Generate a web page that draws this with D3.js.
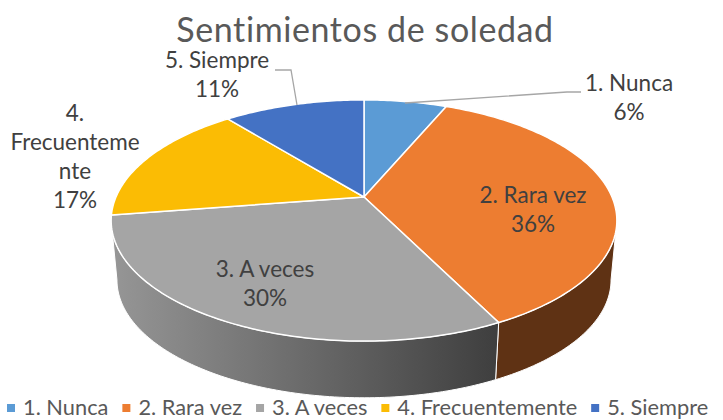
<!DOCTYPE html>
<html><head><meta charset="utf-8">
<script src="https://cdn.jsdelivr.net/npm/d3@7"></script>
<style>html,body{margin:0;background:#fff;overflow:hidden}svg{display:block}text{font-family:Lato,"Open Sans",sans-serif}</style>
</head><body><svg id="c" width="723" height="420"></svg>
<script>
const title = "Sentimientos de soledad";
const categories = ["1. Nunca","2. Rara vez","3. A veces","4. Frecuentemente","5. Siempre"];
const values = [6.4,36.2,30,16.5,10.9];
const colors = ["#5b9bd5","#ed7d31","#a5a5a5","#fbbc04","#4472c4"];
const sideColors = ["#2e5f8c","#5f3214","url(#gs)","#7f6000","#264478"];
const labelLines = [["1. Nunca"],["2. Rara vez"],["3. A veces"],["4.","Frecuenteme","nte"],["5. Siempre"]];

const svg = d3.select("#c");
const cx = 364, cy = 197, k = 0.195, A = 248, B = 116, depth = 60, shrink = 0.977;
function proj(theta, r, s, dy){
  const u = r*Math.sin(theta), v = r*Math.cos(theta), w = 1 + k*v;
  return [cx + s*A*u/w, cy + dy - s*B*v/w];
}
const arcs = d3.pie().sort(null).value(d=>d)(values);
const line = d3.line();
const defs = svg.append("defs");
const g = defs.append("linearGradient").attr("id","gs").attr("gradientUnits","userSpaceOnUse")
  .attr("x1",112).attr("x2",495).attr("y1",0).attr("y2",0);
g.append("stop").attr("offset",0).attr("stop-color","#969696");
g.append("stop").attr("offset",1).attr("stop-color","#3f3f3f");
function samples(s,e){ const n = Math.max(8,Math.ceil((e-s)*60));
  return d3.range(n+1).map(i=>s+(e-s)*i/n); }

// sides: only the part of the rim that faces the viewer
const visA = Math.acos(-k), visB = 2*Math.PI - visA;
arcs.forEach((a,i)=>{
  const s = Math.max(a.startAngle,visA), e = Math.min(a.endAngle,visB);
  if (e <= s) return;
  const t = samples(s,e);
  const pts = t.map(x=>proj(x,1,1,0)).concat(t.slice().reverse().map(x=>proj(x,1,shrink,depth)));
  svg.append("path").attr("d",line(pts)+"Z").attr("fill",sideColors[i])
    .attr("stroke","#fff").attr("stroke-width",1);
});
// top face
arcs.forEach((a,i)=>{
  const pts = [proj(0,0,1,0)].concat(samples(a.startAngle,a.endAngle).map(x=>proj(x,1,1,0)));
  svg.append("path").attr("d",line(pts)+"Z").attr("fill",colors[i])
    .attr("stroke","#fff").attr("stroke-width",1.5).attr("stroke-linejoin","round");
});
// title
svg.append("text").attr("x",365).attr("y",42).attr("text-anchor","middle")
  .attr("font-size",34).attr("fill","#595959").attr("letter-spacing",0.6).text(title);
// leader lines
const leaderColor="#a6a6a6";
const leaders=[[[405,103],[567,92],[581,92]],[[275,70],[291,70],[297,105]]];
leaders.forEach(l=>svg.append("path").attr("d",line(l)).attr("fill","none").attr("stroke",leaderColor).attr("stroke-width",1.3));
// data labels
const labelPos=[[629,91],[533,203],[265,277],[75,121],[217,68]];
const lh=29;
arcs.forEach((a,i)=>{
  const lines=labelLines[i].concat([Math.round(values[i])+"%"]);
  const t=svg.append("text").attr("text-anchor","middle").attr("font-size",22.5).attr("fill","#404040");
  lines.forEach((s,j)=>t.append("tspan").attr("x",labelPos[i][0]).attr("y",labelPos[i][1]+j*lh).text(s));
});
// legend
let lx=7;
categories.forEach((c,i)=>{
  svg.append("rect").attr("x",lx).attr("y",404).attr("width",8).attr("height",8).attr("fill",colors[i]);
  const t=svg.append("text").attr("x",lx+16).attr("y",415).attr("font-size",21.8).attr("fill","#595959").text(c);
  lx+=16+t.node().getComputedTextLength()+14;
});
</script></body></html>
